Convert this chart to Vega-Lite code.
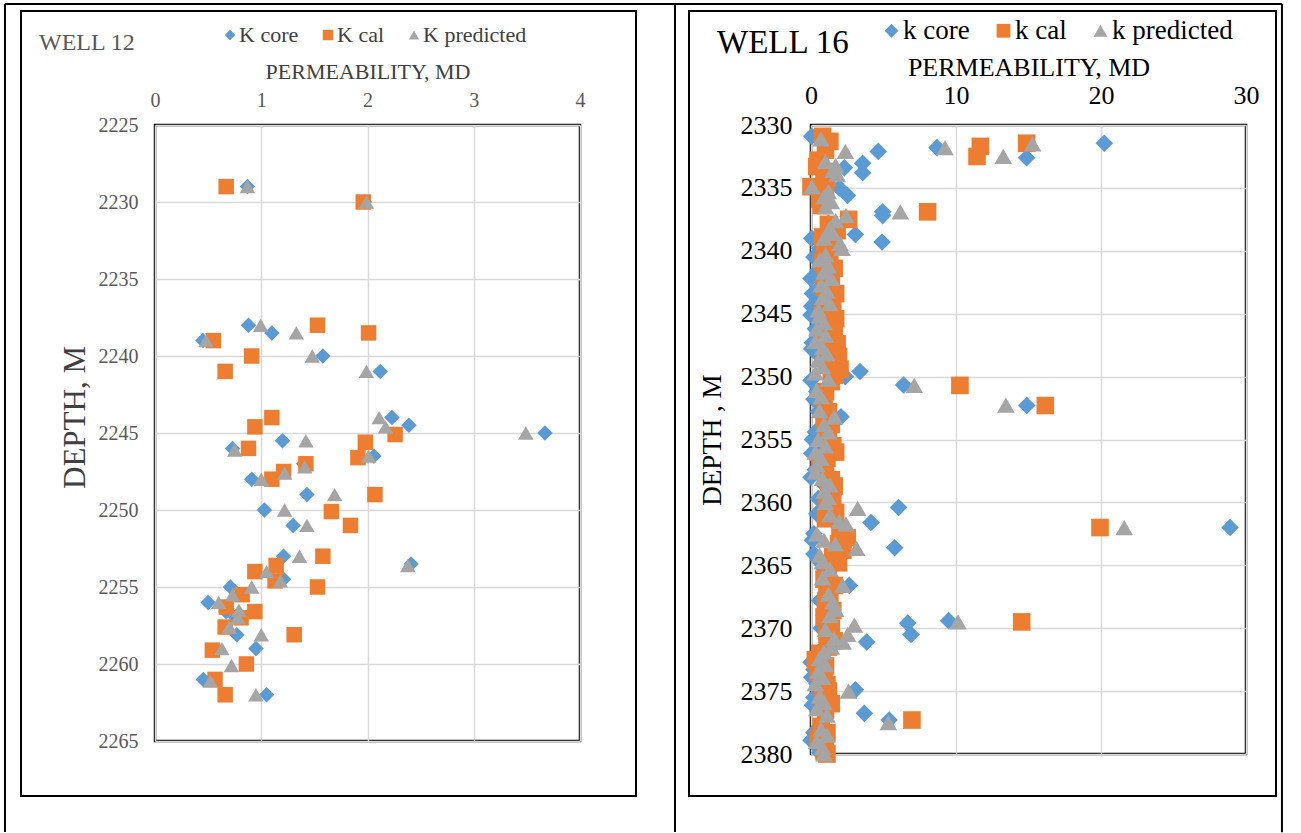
{
  "$schema": "https://vega.github.io/schema/vega-lite/v6.json",
  "padding": {"left": 2, "top": 1, "right": 0, "bottom": 0},
  "background": "white",
  "bounds": "flush",
  "spacing": 231,
  "datasets": {
    "w12": [
      {"d":2229,"k":0.87,"s":"K core"},{"d":2230,"k":1.97,"s":"K core"},{"d":2238,"k":0.88,"s":"K core"},{"d":2238.5,"k":1.1,"s":"K core"},{"d":2239,"k":0.45,"s":"K core"},{"d":2240,"k":1.58,"s":"K core"},{"d":2241,"k":2.12,"s":"K core"},{"d":2244,"k":2.23,"s":"K core"},{"d":2244.5,"k":2.39,"s":"K core"},{"d":2245,"k":3.67,"s":"K core"},{"d":2245.5,"k":1.2,"s":"K core"},{"d":2246,"k":0.73,"s":"K core"},{"d":2246.5,"k":2.06,"s":"K core"},{"d":2247,"k":1.4,"s":"K core"},{"d":2248,"k":0.91,"s":"K core"},{"d":2249,"k":1.43,"s":"K core"},{"d":2250,"k":1.03,"s":"K core"},{"d":2251,"k":1.3,"s":"K core"},{"d":2253,"k":1.21,"s":"K core"},{"d":2253.5,"k":2.41,"s":"K core"},{"d":2254.5,"k":1.21,"s":"K core"},{"d":2255,"k":0.71,"s":"K core"},{"d":2256,"k":0.5,"s":"K core"},{"d":2256.6,"k":0.67,"s":"K core"},{"d":2257,"k":0.76,"s":"K core"},{"d":2258.1,"k":0.77,"s":"K core"},{"d":2259,"k":0.95,"s":"K core"},{"d":2261,"k":0.455,"s":"K core"},{"d":2262,"k":1.05,"s":"K core"},
      {"d":2229,"k":0.67,"s":"K cal"},{"d":2230,"k":1.96,"s":"K cal"},{"d":2238,"k":1.53,"s":"K cal"},{"d":2238.5,"k":2.01,"s":"K cal"},{"d":2239,"k":0.55,"s":"K cal"},{"d":2240,"k":0.91,"s":"K cal"},{"d":2241,"k":0.66,"s":"K cal"},{"d":2244,"k":1.1,"s":"K cal"},{"d":2244.6,"k":0.94,"s":"K cal"},{"d":2245.1,"k":2.26,"s":"K cal"},{"d":2245.6,"k":1.98,"s":"K cal"},{"d":2246,"k":0.88,"s":"K cal"},{"d":2246.6,"k":1.91,"s":"K cal"},{"d":2247,"k":1.42,"s":"K cal"},{"d":2247.5,"k":1.21,"s":"K cal"},{"d":2248,"k":1.1,"s":"K cal"},{"d":2249,"k":2.07,"s":"K cal"},{"d":2250.1,"k":1.66,"s":"K cal"},{"d":2251,"k":1.84,"s":"K cal"},{"d":2253,"k":1.58,"s":"K cal"},{"d":2253.6,"k":1.14,"s":"K cal"},{"d":2254,"k":0.94,"s":"K cal"},{"d":2254.6,"k":1.13,"s":"K cal"},{"d":2255,"k":1.53,"s":"K cal"},{"d":2255.5,"k":0.82,"s":"K cal"},{"d":2256.3,"k":0.67,"s":"K cal"},{"d":2256.6,"k":0.94,"s":"K cal"},{"d":2257,"k":0.81,"s":"K cal"},{"d":2257.6,"k":0.66,"s":"K cal"},{"d":2258.1,"k":1.31,"s":"K cal"},{"d":2259.1,"k":0.54,"s":"K cal"},{"d":2260,"k":0.86,"s":"K cal"},{"d":2261,"k":0.565,"s":"K cal"},{"d":2262,"k":0.66,"s":"K cal"},
      {"d":2229,"k":0.87,"s":"K predicted"},{"d":2230,"k":1.99,"s":"K predicted"},{"d":2238,"k":0.995,"s":"K predicted"},{"d":2238.5,"k":1.33,"s":"K predicted"},{"d":2239,"k":0.48,"s":"K predicted"},{"d":2240,"k":1.48,"s":"K predicted"},{"d":2241,"k":1.99,"s":"K predicted"},{"d":2244,"k":2.11,"s":"K predicted"},{"d":2244.6,"k":2.17,"s":"K predicted"},{"d":2245,"k":3.49,"s":"K predicted"},{"d":2245.5,"k":1.42,"s":"K predicted"},{"d":2246.1,"k":0.75,"s":"K predicted"},{"d":2246.5,"k":2.01,"s":"K predicted"},{"d":2247.2,"k":1.41,"s":"K predicted"},{"d":2247.6,"k":1.22,"s":"K predicted"},{"d":2248,"k":1.0,"s":"K predicted"},{"d":2249,"k":1.69,"s":"K predicted"},{"d":2250,"k":1.22,"s":"K predicted"},{"d":2251,"k":1.43,"s":"K predicted"},{"d":2253,"k":1.36,"s":"K predicted"},{"d":2253.6,"k":2.38,"s":"K predicted"},{"d":2254,"k":1.05,"s":"K predicted"},{"d":2254.6,"k":1.18,"s":"K predicted"},{"d":2255,"k":0.91,"s":"K predicted"},{"d":2255.5,"k":0.73,"s":"K predicted"},{"d":2256,"k":0.6,"s":"K predicted"},{"d":2256.5,"k":0.79,"s":"K predicted"},{"d":2257,"k":0.78,"s":"K predicted"},{"d":2257.6,"k":0.7,"s":"K predicted"},{"d":2258.1,"k":1.0,"s":"K predicted"},{"d":2259,"k":0.63,"s":"K predicted"},{"d":2260.1,"k":0.72,"s":"K predicted"},{"d":2261.1,"k":0.52,"s":"K predicted"},{"d":2262,"k":0.95,"s":"K predicted"}
    ],
    "w16": [
      {"d":2330.9,"k":0.05,"s":"k core"},{"d":2331.45,"k":20.23,"s":"k core"},{"d":2331.8,"k":8.69,"s":"k core"},{"d":2332.1,"k":4.64,"s":"k core"},{"d":2332.6,"k":14.87,"s":"k core"},{"d":2333.05,"k":3.56,"s":"k core"},{"d":2333.4,"k":2.3,"s":"k core"},{"d":2333.8,"k":3.56,"s":"k core"},{"d":2334.2,"k":0.9,"s":"k core"},{"d":2335.0,"k":1.95,"s":"k core"},{"d":2335.6,"k":2.52,"s":"k core"},{"d":2336.2,"k":0.7,"s":"k core"},{"d":2336.9,"k":4.94,"s":"k core"},{"d":2337.2,"k":4.94,"s":"k core"},{"d":2337.8,"k":1.2,"s":"k core"},{"d":2338.7,"k":3.06,"s":"k core"},{"d":2339.0,"k":0.05,"s":"k core"},{"d":2339.3,"k":4.9,"s":"k core"},{"d":2339.8,"k":0.6,"s":"k core"},{"d":2340.5,"k":0.2,"s":"k core"},{"d":2341.0,"k":0.9,"s":"k core"},{"d":2341.5,"k":0.5,"s":"k core"},{"d":2342.2,"k":0.0,"s":"k core"},{"d":2342.8,"k":0.7,"s":"k core"},{"d":2343.4,"k":0.1,"s":"k core"},{"d":2344.0,"k":0.6,"s":"k core"},{"d":2344.4,"k":0.05,"s":"k core"},{"d":2345.1,"k":0.0,"s":"k core"},{"d":2345.6,"k":0.5,"s":"k core"},{"d":2346.2,"k":0.3,"s":"k core"},{"d":2346.8,"k":0.8,"s":"k core"},{"d":2347.3,"k":0.1,"s":"k core"},{"d":2347.8,"k":0.05,"s":"k core"},{"d":2348.4,"k":0.6,"s":"k core"},{"d":2349.0,"k":0.9,"s":"k core"},{"d":2349.6,"k":3.38,"s":"k core"},{"d":2350.0,"k":2.37,"s":"k core"},{"d":2350.3,"k":0.0,"s":"k core"},{"d":2350.67,"k":6.39,"s":"k core"},{"d":2351.2,"k":0.4,"s":"k core"},{"d":2351.8,"k":0.2,"s":"k core"},{"d":2352.3,"k":14.88,"s":"k core"},{"d":2352.8,"k":0.5,"s":"k core"},{"d":2353.2,"k":2.07,"s":"k core"},{"d":2353.7,"k":0.9,"s":"k core"},{"d":2354.4,"k":0.3,"s":"k core"},{"d":2355.0,"k":0.1,"s":"k core"},{"d":2355.5,"k":0.6,"s":"k core"},{"d":2356.1,"k":0.05,"s":"k core"},{"d":2356.7,"k":0.8,"s":"k core"},{"d":2357.4,"k":0.3,"s":"k core"},{"d":2358.0,"k":0.0,"s":"k core"},{"d":2358.6,"k":0.9,"s":"k core"},{"d":2359.1,"k":1.2,"s":"k core"},{"d":2359.7,"k":0.5,"s":"k core"},{"d":2360.4,"k":6.04,"s":"k core"},{"d":2360.9,"k":0.4,"s":"k core"},{"d":2361.6,"k":4.14,"s":"k core"},{"d":2362.0,"k":28.9,"s":"k core"},{"d":2362.5,"k":0.2,"s":"k core"},{"d":2363.0,"k":0.1,"s":"k core"},{"d":2363.6,"k":5.77,"s":"k core"},{"d":2364.1,"k":0.2,"s":"k core"},{"d":2364.6,"k":0.5,"s":"k core"},{"d":2365.3,"k":0.9,"s":"k core"},{"d":2365.9,"k":1.3,"s":"k core"},{"d":2366.6,"k":2.64,"s":"k core"},{"d":2367.2,"k":1.0,"s":"k core"},{"d":2367.8,"k":0.6,"s":"k core"},{"d":2368.4,"k":1.3,"s":"k core"},{"d":2369.0,"k":0.9,"s":"k core"},{"d":2369.4,"k":9.49,"s":"k core"},{"d":2369.6,"k":6.67,"s":"k core"},{"d":2370.0,"k":0.7,"s":"k core"},{"d":2370.5,"k":6.9,"s":"k core"},{"d":2371.1,"k":3.84,"s":"k core"},{"d":2371.6,"k":0.8,"s":"k core"},{"d":2372.2,"k":0.3,"s":"k core"},{"d":2372.7,"k":0.0,"s":"k core"},{"d":2373.3,"k":0.2,"s":"k core"},{"d":2373.9,"k":0.05,"s":"k core"},{"d":2374.4,"k":0.4,"s":"k core"},{"d":2374.9,"k":3.06,"s":"k core"},{"d":2375.5,"k":0.2,"s":"k core"},{"d":2376.1,"k":0.1,"s":"k core"},{"d":2376.77,"k":3.68,"s":"k core"},{"d":2377.3,"k":5.39,"s":"k core"},{"d":2377.8,"k":0.6,"s":"k core"},{"d":2378.3,"k":0.2,"s":"k core"},{"d":2378.9,"k":0.0,"s":"k core"},{"d":2379.4,"k":0.4,"s":"k core"},{"d":2379.9,"k":0.6,"s":"k core"},
      {"d":2330.9,"k":0.8,"s":"k cal"},{"d":2331.3,"k":1.3,"s":"k cal"},{"d":2331.45,"k":14.87,"s":"k cal"},{"d":2331.7,"k":11.68,"s":"k cal"},{"d":2332.0,"k":1.0,"s":"k cal"},{"d":2332.5,"k":11.45,"s":"k cal"},{"d":2332.8,"k":0.5,"s":"k cal"},{"d":2333.3,"k":0.4,"s":"k cal"},{"d":2333.7,"k":0.9,"s":"k cal"},{"d":2334.2,"k":1.1,"s":"k cal"},{"d":2334.9,"k":0.0,"s":"k cal"},{"d":2335.4,"k":1.0,"s":"k cal"},{"d":2335.9,"k":0.6,"s":"k cal"},{"d":2336.4,"k":0.7,"s":"k cal"},{"d":2336.9,"k":8.04,"s":"k cal"},{"d":2337.5,"k":2.6,"s":"k cal"},{"d":2337.9,"k":1.2,"s":"k cal"},{"d":2338.4,"k":1.8,"s":"k cal"},{"d":2338.9,"k":0.8,"s":"k cal"},{"d":2339.4,"k":1.5,"s":"k cal"},{"d":2339.9,"k":0.9,"s":"k cal"},{"d":2340.4,"k":1.3,"s":"k cal"},{"d":2340.9,"k":0.8,"s":"k cal"},{"d":2341.4,"k":1.6,"s":"k cal"},{"d":2341.9,"k":1.0,"s":"k cal"},{"d":2342.4,"k":1.4,"s":"k cal"},{"d":2342.9,"k":0.9,"s":"k cal"},{"d":2343.4,"k":1.7,"s":"k cal"},{"d":2343.9,"k":1.1,"s":"k cal"},{"d":2344.4,"k":1.5,"s":"k cal"},{"d":2344.9,"k":0.8,"s":"k cal"},{"d":2345.4,"k":1.7,"s":"k cal"},{"d":2345.9,"k":1.2,"s":"k cal"},{"d":2346.4,"k":1.6,"s":"k cal"},{"d":2346.9,"k":1.0,"s":"k cal"},{"d":2347.4,"k":1.8,"s":"k cal"},{"d":2347.9,"k":1.3,"s":"k cal"},{"d":2348.4,"k":1.9,"s":"k cal"},{"d":2348.9,"k":1.2,"s":"k cal"},{"d":2349.4,"k":2.0,"s":"k cal"},{"d":2349.9,"k":1.6,"s":"k cal"},{"d":2350.4,"k":1.4,"s":"k cal"},{"d":2350.7,"k":10.27,"s":"k cal"},{"d":2351.2,"k":1.0,"s":"k cal"},{"d":2351.7,"k":0.9,"s":"k cal"},{"d":2352.3,"k":16.16,"s":"k cal"},{"d":2352.8,"k":1.2,"s":"k cal"},{"d":2353.3,"k":0.9,"s":"k cal"},{"d":2353.8,"k":1.4,"s":"k cal"},{"d":2354.3,"k":1.0,"s":"k cal"},{"d":2355.0,"k":1.2,"s":"k cal"},{"d":2355.5,"k":1.5,"s":"k cal"},{"d":2356.0,"k":1.7,"s":"k cal"},{"d":2356.5,"k":1.1,"s":"k cal"},{"d":2357.0,"k":0.6,"s":"k cal"},{"d":2357.7,"k":1.0,"s":"k cal"},{"d":2358.2,"k":1.4,"s":"k cal"},{"d":2358.7,"k":1.6,"s":"k cal"},{"d":2359.2,"k":1.2,"s":"k cal"},{"d":2359.7,"k":1.5,"s":"k cal"},{"d":2360.3,"k":1.1,"s":"k cal"},{"d":2360.8,"k":1.7,"s":"k cal"},{"d":2361.3,"k":1.0,"s":"k cal"},{"d":2362.0,"k":19.93,"s":"k cal"},{"d":2362.3,"k":2.0,"s":"k cal"},{"d":2362.8,"k":2.5,"s":"k cal"},{"d":2363.3,"k":1.9,"s":"k cal"},{"d":2363.8,"k":2.2,"s":"k cal"},{"d":2364.3,"k":1.5,"s":"k cal"},{"d":2364.8,"k":1.9,"s":"k cal"},{"d":2365.3,"k":1.2,"s":"k cal"},{"d":2366.1,"k":0.9,"s":"k cal"},{"d":2366.6,"k":1.6,"s":"k cal"},{"d":2367.1,"k":1.1,"s":"k cal"},{"d":2367.6,"k":1.3,"s":"k cal"},{"d":2368.1,"k":1.0,"s":"k cal"},{"d":2368.6,"k":1.5,"s":"k cal"},{"d":2369.1,"k":0.9,"s":"k cal"},{"d":2369.5,"k":14.53,"s":"k cal"},{"d":2370.0,"k":1.4,"s":"k cal"},{"d":2370.5,"k":1.1,"s":"k cal"},{"d":2371.0,"k":1.6,"s":"k cal"},{"d":2371.5,"k":1.2,"s":"k cal"},{"d":2372.0,"k":0.6,"s":"k cal"},{"d":2372.5,"k":0.3,"s":"k cal"},{"d":2373.0,"k":1.0,"s":"k cal"},{"d":2373.5,"k":0.5,"s":"k cal"},{"d":2374.0,"k":0.9,"s":"k cal"},{"d":2374.5,"k":1.1,"s":"k cal"},{"d":2375.0,"k":1.2,"s":"k cal"},{"d":2375.5,"k":0.8,"s":"k cal"},{"d":2376.0,"k":1.4,"s":"k cal"},{"d":2376.5,"k":1.0,"s":"k cal"},{"d":2377.3,"k":6.96,"s":"k cal"},{"d":2377.8,"k":0.7,"s":"k cal"},{"d":2378.3,"k":1.1,"s":"k cal"},{"d":2378.8,"k":0.5,"s":"k cal"},{"d":2379.3,"k":1.0,"s":"k cal"},{"d":2379.8,"k":0.9,"s":"k cal"},{"d":2380.0,"k":1.1,"s":"k cal"},
      {"d":2331.1,"k":0.69,"s":"k predicted"},{"d":2331.5,"k":15.28,"s":"k predicted"},{"d":2331.8,"k":9.24,"s":"k predicted"},{"d":2332.1,"k":2.37,"s":"k predicted"},{"d":2332.5,"k":13.26,"s":"k predicted"},{"d":2332.9,"k":1.0,"s":"k predicted"},{"d":2333.2,"k":1.7,"s":"k predicted"},{"d":2333.6,"k":1.5,"s":"k predicted"},{"d":2333.9,"k":1.8,"s":"k predicted"},{"d":2334.9,"k":0.07,"s":"k predicted"},{"d":2335.3,"k":1.2,"s":"k predicted"},{"d":2335.7,"k":0.9,"s":"k predicted"},{"d":2336.1,"k":1.4,"s":"k predicted"},{"d":2336.5,"k":1.0,"s":"k predicted"},{"d":2336.9,"k":6.16,"s":"k predicted"},{"d":2337.2,"k":2.41,"s":"k predicted"},{"d":2337.6,"k":1.7,"s":"k predicted"},{"d":2338.2,"k":1.3,"s":"k predicted"},{"d":2338.6,"k":1.5,"s":"k predicted"},{"d":2339.0,"k":0.9,"s":"k predicted"},{"d":2339.4,"k":2.0,"s":"k predicted"},{"d":2339.8,"k":2.14,"s":"k predicted"},{"d":2340.3,"k":1.0,"s":"k predicted"},{"d":2340.7,"k":0.6,"s":"k predicted"},{"d":2341.2,"k":1.2,"s":"k predicted"},{"d":2341.7,"k":0.9,"s":"k predicted"},{"d":2342.2,"k":1.4,"s":"k predicted"},{"d":2342.7,"k":0.7,"s":"k predicted"},{"d":2343.2,"k":1.1,"s":"k predicted"},{"d":2343.7,"k":0.8,"s":"k predicted"},{"d":2344.2,"k":1.3,"s":"k predicted"},{"d":2344.7,"k":0.5,"s":"k predicted"},{"d":2345.2,"k":0.6,"s":"k predicted"},{"d":2345.7,"k":0.9,"s":"k predicted"},{"d":2346.2,"k":0.4,"s":"k predicted"},{"d":2346.7,"k":1.0,"s":"k predicted"},{"d":2347.2,"k":0.3,"s":"k predicted"},{"d":2347.7,"k":0.8,"s":"k predicted"},{"d":2348.2,"k":1.1,"s":"k predicted"},{"d":2348.7,"k":0.5,"s":"k predicted"},{"d":2349.2,"k":0.8,"s":"k predicted"},{"d":2349.7,"k":0.3,"s":"k predicted"},{"d":2350.2,"k":1.2,"s":"k predicted"},{"d":2350.7,"k":7.12,"s":"k predicted"},{"d":2351.1,"k":0.4,"s":"k predicted"},{"d":2351.6,"k":0.7,"s":"k predicted"},{"d":2352.26,"k":13.44,"s":"k predicted"},{"d":2352.7,"k":0.6,"s":"k predicted"},{"d":2353.2,"k":1.6,"s":"k predicted"},{"d":2353.8,"k":0.9,"s":"k predicted"},{"d":2354.4,"k":1.2,"s":"k predicted"},{"d":2355.0,"k":0.5,"s":"k predicted"},{"d":2355.5,"k":1.0,"s":"k predicted"},{"d":2356.0,"k":0.3,"s":"k predicted"},{"d":2356.5,"k":0.7,"s":"k predicted"},{"d":2357.0,"k":0.4,"s":"k predicted"},{"d":2357.6,"k":0.3,"s":"k predicted"},{"d":2358.1,"k":0.8,"s":"k predicted"},{"d":2358.6,"k":1.3,"s":"k predicted"},{"d":2359.1,"k":0.9,"s":"k predicted"},{"d":2359.6,"k":1.2,"s":"k predicted"},{"d":2360.0,"k":1.0,"s":"k predicted"},{"d":2360.47,"k":3.22,"s":"k predicted"},{"d":2361.0,"k":1.3,"s":"k predicted"},{"d":2361.5,"k":1.95,"s":"k predicted"},{"d":2361.7,"k":2.41,"s":"k predicted"},{"d":2362.0,"k":21.6,"s":"k predicted"},{"d":2362.5,"k":0.4,"s":"k predicted"},{"d":2363.0,"k":0.9,"s":"k predicted"},{"d":2363.3,"k":1.68,"s":"k predicted"},{"d":2363.65,"k":3.15,"s":"k predicted"},{"d":2364.2,"k":0.6,"s":"k predicted"},{"d":2364.7,"k":0.8,"s":"k predicted"},{"d":2365.3,"k":1.3,"s":"k predicted"},{"d":2366.0,"k":0.8,"s":"k predicted"},{"d":2366.6,"k":2.18,"s":"k predicted"},{"d":2367.3,"k":1.2,"s":"k predicted"},{"d":2367.9,"k":1.5,"s":"k predicted"},{"d":2368.5,"k":1.7,"s":"k predicted"},{"d":2369.0,"k":1.3,"s":"k predicted"},{"d":2369.5,"k":10.14,"s":"k predicted"},{"d":2369.75,"k":2.99,"s":"k predicted"},{"d":2370.1,"k":1.0,"s":"k predicted"},{"d":2370.5,"k":2.53,"s":"k predicted"},{"d":2370.8,"k":1.6,"s":"k predicted"},{"d":2371.1,"k":2.22,"s":"k predicted"},{"d":2371.5,"k":1.4,"s":"k predicted"},{"d":2371.9,"k":0.9,"s":"k predicted"},{"d":2372.4,"k":0.6,"s":"k predicted"},{"d":2372.9,"k":1.0,"s":"k predicted"},{"d":2373.4,"k":0.5,"s":"k predicted"},{"d":2373.9,"k":0.8,"s":"k predicted"},{"d":2374.4,"k":0.3,"s":"k predicted"},{"d":2375.0,"k":2.59,"s":"k predicted"},{"d":2375.4,"k":0.6,"s":"k predicted"},{"d":2375.9,"k":0.9,"s":"k predicted"},{"d":2376.4,"k":0.4,"s":"k predicted"},{"d":2376.9,"k":1.1,"s":"k predicted"},{"d":2377.5,"k":5.33,"s":"k predicted"},{"d":2378.0,"k":0.7,"s":"k predicted"},{"d":2378.5,"k":1.1,"s":"k predicted"},{"d":2379.0,"k":0.4,"s":"k predicted"},{"d":2379.5,"k":0.8,"s":"k predicted"},{"d":2380.0,"k":0.9,"s":"k predicted"}
    ]
  },
  "hconcat": [
    {
      "width": 425,
      "height": 616,
      "title": {"text": "WELL 12", "anchor": "start", "frame": "group", "dx": -116, "offset": -52, "fontSize": 24, "color": "#595959", "font": "Liberation Serif", "fontWeight": "normal"},
      "layer": [
        {
          "data": {"name": "w12"},
          "mark": {"type": "point", "filled": true, "opacity": 1, "size": 240, "strokeWidth": 0},
          "encoding": {
            "x": {"field": "k", "type": "quantitative", "scale": {"domain": [0, 4], "nice": false, "zero": false},
              "axis": {"orient": "top", "values": [0, 1, 2, 3, 4], "format": "d", "title": "PERMEABILITY, MD", "titleFontSize": 22, "titleColor": "#404040", "titleFontWeight": "normal", "titlePadding": 7, "labelFontSize": 20, "labelColor": "#595959", "labelPadding": 15, "labelFlush": false, "ticks": false, "tickSize": 0, "domain": false, "grid": true, "gridColor": "#D9D9D9", "gridWidth": 1.5}},
            "y": {"field": "d", "type": "quantitative", "scale": {"domain": [2225, 2265], "reverse": true, "nice": false, "zero": false},
              "axis": {"values": [2225, 2230, 2235, 2240, 2245, 2250, 2255, 2260, 2265], "format": "d", "title": "DEPTH, M", "titleFontSize": 31, "titleColor": "#404040", "titleFontWeight": "normal", "titlePadding": 7, "titleY": 292, "labelFontSize": 20, "labelColor": "#595959", "labelPadding": 17, "labelFlush": false, "ticks": false, "tickSize": 0, "domain": false, "grid": true, "gridColor": "#D9D9D9", "gridWidth": 1.5}},
            "color": {"field": "s", "type": "nominal", "scale": {"domain": ["K core", "K cal", "K predicted"], "range": ["#5B9BD5", "#ED7D31", "#A5A5A5"]},
              "legend": {"title": null, "orient": "none", "legendX": 64, "legendY": -101, "direction": "horizontal", "labelFontSize": 22, "labelColor": "#404040", "symbolSize": 110, "labelOffset": -2, "columnPadding": 18, "symbolStrokeWidth": 0, "padding": 0}},
            "shape": {"field": "s", "type": "nominal", "scale": {"domain": ["K core", "K cal", "K predicted"], "range": ["diamond", "square", "triangle-up"]},
              "legend": {"title": null, "orient": "none", "legendX": 64, "legendY": -101, "direction": "horizontal", "labelFontSize": 22, "labelColor": "#404040", "symbolSize": 110, "labelOffset": -2, "columnPadding": 18, "symbolStrokeWidth": 0, "padding": 0}}
          }
        },
        {
          "data": {"values": [{}]},
          "mark": {"type": "rect", "fillOpacity": 0, "stroke": "#000000", "strokeWidth": 2},
          "encoding": {"x": {"datum": -1.261}, "x2": {"datum": 4.527}, "y": {"datum": 2217.6}, "y2": {"datum": 2268.57}}
        },
        {
          "data": {"values": [{}]},
          "mark": {"type": "rule", "color": "#000000", "strokeWidth": 2},
          "encoding": {"x": {"datum": -1.412}, "y": {"datum": 2217.14}, "y2": {"datum": 2270.91}}
        },
        {
          "data": {"values": [{}]},
          "mark": {"type": "rule", "color": "#000000", "strokeWidth": 2},
          "encoding": {"x": {"datum": 4.894}, "y": {"datum": 2217.14}, "y2": {"datum": 2270.91}}
        },
        {
          "data": {"values": [{}]},
          "mark": {"type": "rule", "color": "#000000", "strokeWidth": 2},
          "encoding": {"x": {"datum": -1.412}, "x2": {"datum": 10.607}, "y": {"datum": 2217.14}}
        }
      ]
    },
    {
      "width": 435,
      "height": 629,
      "title": {"text": "WELL 16", "anchor": "start", "frame": "group", "dx": -94, "offset": -57, "fontSize": 33, "color": "#000000", "font": "Liberation Serif", "fontWeight": "normal"},
      "layer": [
        {
          "data": {"name": "w16"},
          "mark": {"type": "point", "filled": true, "opacity": 1, "size": 310, "strokeWidth": 0},
          "encoding": {
            "x": {"field": "k", "type": "quantitative", "scale": {"domain": [0, 30], "nice": false, "zero": false},
              "axis": {"orient": "top", "values": [0, 10, 20, 30], "format": "d", "title": "PERMEABILITY, MD", "titleFontSize": 26, "titleColor": "#000000", "titleFontWeight": "normal", "titlePadding": 2, "labelFontSize": 26, "labelColor": "#000000", "labelPadding": 17, "labelFlush": false, "ticks": false, "tickSize": 0, "domain": false, "grid": true, "gridColor": "#D9D9D9", "gridWidth": 1.5}},
            "y": {"field": "d", "type": "quantitative", "scale": {"domain": [2330, 2380], "reverse": true, "nice": false, "zero": false},
              "axis": {"values": [2330, 2335, 2340, 2345, 2350, 2355, 2360, 2365, 2370, 2375, 2380], "format": "d", "title": "DEPTH , M", "titleFontSize": 27, "titleColor": "#000000", "titleFontWeight": "normal", "titlePadding": 14, "labelFontSize": 26, "labelColor": "#000000", "labelPadding": 19, "labelFlush": false, "ticks": false, "tickSize": 0, "domain": false, "grid": true, "gridColor": "#D9D9D9", "gridWidth": 1.5}},
            "color": {"field": "s", "type": "nominal", "scale": {"domain": ["k core", "k cal", "k predicted"], "range": ["#5B9BD5", "#ED7D31", "#A5A5A5"]},
              "legend": {"title": null, "orient": "none", "legendX": 67, "legendY": -108, "direction": "horizontal", "labelFontSize": 27, "labelColor": "#000000", "symbolSize": 190, "labelOffset": -2, "columnPadding": 20, "symbolStrokeWidth": 0, "padding": 0}},
            "shape": {"field": "s", "type": "nominal", "scale": {"domain": ["k core", "k cal", "k predicted"], "range": ["diamond", "square", "triangle-up"]},
              "legend": {"title": null, "orient": "none", "legendX": 67, "legendY": -108, "direction": "horizontal", "labelFontSize": 27, "labelColor": "#000000", "symbolSize": 190, "labelOffset": -2, "columnPadding": 20, "symbolStrokeWidth": 0, "padding": 0}}
          }
        },
        {
          "data": {"values": [{}]},
          "mark": {"type": "rect", "fillOpacity": 0, "stroke": "#000000", "strokeWidth": 2},
          "encoding": {"x": {"datum": -8.414}, "x2": {"datum": 32.07}, "y": {"datum": 2320.94}, "y2": {"datum": 2383.34}}
        },
        {
          "data": {"values": [{}]},
          "mark": {"type": "rule", "color": "#000000", "strokeWidth": 2},
          "encoding": {"x": {"datum": 32.48}, "y": {"datum": 2320.38}, "y2": {"datum": 2386.22}}
        }
      ]
    }
  ],
  "resolve": {
    "scale": {"x": "independent", "y": "independent", "color": "independent", "shape": "independent"},
    "legend": {"color": "independent", "shape": "independent"}
  },
  "config": {
    "font": "Liberation Serif",
    "view": {"stroke": "#000000", "strokeWidth": 2.5},
    "axis": {"labelFont": "Liberation Serif", "titleFont": "Liberation Serif"},
    "legend": {"labelFont": "Liberation Serif", "titleFont": "Liberation Serif"},
    "title": {"font": "Liberation Serif"}
  }
}
